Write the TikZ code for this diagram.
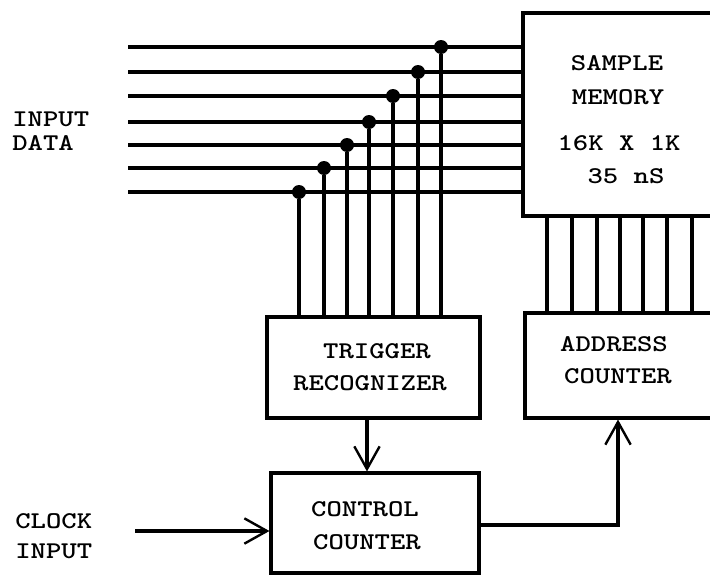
\documentclass[tikz,border=0pt]{standalone}
\usetikzlibrary{arrows.meta,fit}
\begin{document}
\begin{tikzpicture}[x=0.75pt,y=-0.75pt,
  wire/.style={line width=2.3pt},
  box/.style={draw,line width=2.3pt,inner sep=0pt},
  dotnode/.style={circle,fill=black,inner sep=0pt,minimum size=10.5pt},
  lbl/.style={font=\fontsize{18}{20}\selectfont\ttfamily\bfseries,inner sep=0pt,xscale=1.22,transform shape},
  arr/.style={line width=2.3pt,-{Straight Barb[length=17pt,width=19pt,line width=1.8pt]}}]
\useasboundingbox (0,0) rectangle (710,578);
\clip (0,0) rectangle (710,578);
% boxes
\node[box,fit={(523,13) (740,216)}] (mem) {};
\node[box,fit={(525,313) (740,418)}] (addr) {};
\node[box,fit={(267,317) (480,418)}] (trig) {};
\node[box,fit={(271,473) (479,573)}] (ctrl) {};
% texts
\node[lbl] (ms1) at (617,63) {SAMPLE};
\node[lbl] (ms2) at (618,97) {MEMORY};
\node[lbl] (ms3) at (619,143) {16K X 1K};
\node[lbl] (ms4) at (626,176) {35 nS};
\node[lbl] (tr1) at (377,351) {TRIGGER};
\node[lbl] (tr2) at (370,383) {RECOGNIZER};
\node[lbl] (ad1) at (614,344) {ADDRESS};
\node[lbl] (ad2) at (618,376) {COUNTER};
\node[lbl] (cc1) at (365,509) {CONTROL};
\node[lbl] (cc2) at (367,542) {COUNTER};
\node[lbl,anchor=west] (id1) at (12,119) {INPUT};
\node[lbl,anchor=west] (id2) at (12,143) {DATA};
\node[lbl,anchor=west] (ck1) at (15,521) {CLOCK};
\node[lbl,anchor=west] (ck2) at (15,551) {INPUT};
% data lines with taps
\foreach \i/\y/\x in {1/47/441,2/72/418,3/96/393,4/122/369,5/145/347,6/168/324,7/192/299}{
  \coordinate (in\i) at (128,\y);
  \draw[wire] (in\i) -- (in\i -| mem.west);
  \node[dotnode] (d\i) at (\x,\y) {};
  \draw[wire] (d\i) -- (d\i |- trig.north);
}
% memory to address counter bus
\foreach \i/\x in {1/547,2/572,3/597,4/620,5/643,6/667,7/692}{
  \coordinate (b\i) at (\x,0);
  \draw[wire] (b\i |- mem.south) -- (b\i |- addr.north);
}
% arrows
\draw[arr] ([xshift=-4.9pt]trig.south) -- ([xshift=-4.9pt]trig.south |- ctrl.north);
\coordinate (up) at (618,0);
\draw[arr] (ctrl.east |- 0,525) -| (up |- addr.south);
\coordinate (clk) at (135,531);
\draw[arr] (clk) -- (clk -| ctrl.west);
\end{tikzpicture}
\end{document}
